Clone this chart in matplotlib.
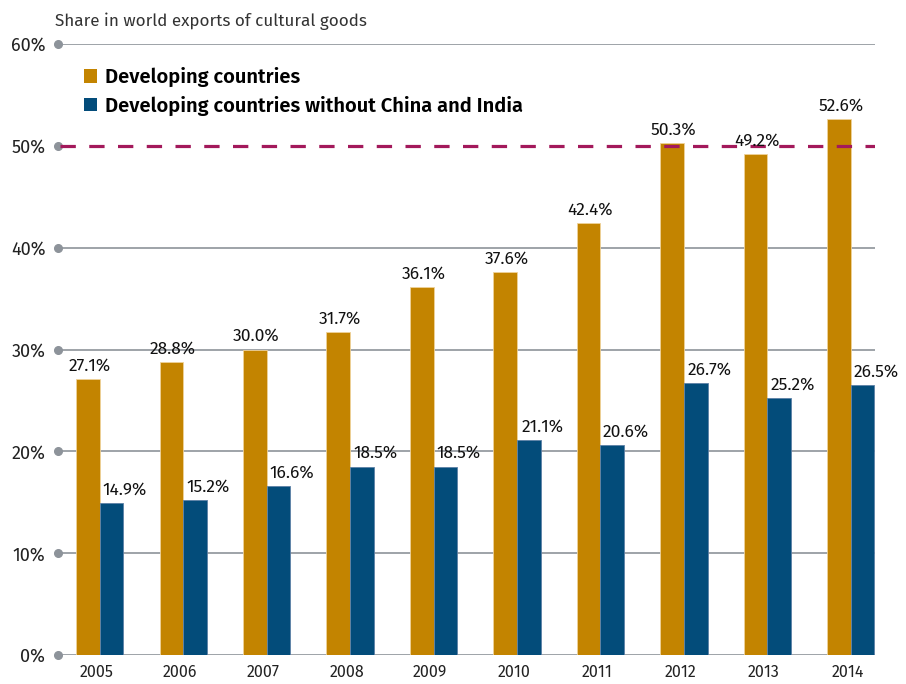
import matplotlib
matplotlib.use("Agg")
import matplotlib.pyplot as plt

plt.rcParams["font.family"] = ["Fira Sans", "DejaVu Sans"]

years = ["2005", "2006", "2007", "2008", "2009", "2010", "2011", "2012", "2013", "2014"]
developing = [27.1, 28.8, 30.0, 31.7, 36.1, 37.6, 42.4, 50.3, 49.2, 52.6]
developing_ex_cn_in = [14.9, 15.2, 16.6, 18.5, 18.5, 21.1, 20.6, 26.7, 25.2, 26.5]
series_labels = ["Developing countries", "Developing countries without China and India"]
yticks = [0, 10, 20, 30, 40, 50, 60]
title = "Share in world exports of cultural goods"
threshold = 50

ORANGE = "#C38400"
BLUE = "#034C7A"
GRID = "#8D939A"
DASH = "#A3195B"

fig = plt.figure(figsize=(9.06, 6.84), dpi=100)
ax = fig.add_axes([58 / 906, 1 - 655 / 684, (875 - 58) / 906, (655 - 44) / 684])

x = list(range(len(years)))
w = 0.283

# Gridlines with a dot at their left end
for t in yticks:
    if t == threshold:
        continue
    ax.axhline(t, color=GRID, lw=1.2, zorder=1)
ax.plot([-0.5] * len(yticks), yticks, "o", color=GRID, ms=5.5, clip_on=False, zorder=3)

b1 = ax.bar([i - w / 2 for i in x], developing, width=w, color=ORANGE,
            edgecolor="#EFD29A", linewidth=0.6, zorder=2, label=series_labels[0])
b2 = ax.bar([i + w / 2 for i in x], developing_ex_cn_in, width=w, color=BLUE,
            edgecolor="#5D80A6", linewidth=0.6, zorder=2, label=series_labels[1])

# 50% threshold
ax.axhline(threshold, xmin=0.003, color=DASH, lw=2.3, ls=(0, (4.8, 4.2)), zorder=4)

for i, v in zip(x, developing):
    ax.text(i - w / 2 + 0.02, v + 0.5, f"{v:.1f}%", ha="center", va="bottom",
            fontsize=12.5, color="#111111", zorder=5)
for i, v in zip(x, developing_ex_cn_in):
    ax.text(i + w + 0.02, v + 0.5, f"{v:.1f}%", ha="center", va="bottom",
            fontsize=12.5, color="#111111", zorder=5)

ax.set_xlim(-0.5, 9.29)
ax.set_ylim(0, 60)
ax.set_yticks(yticks)
ax.set_yticklabels([f"{t}%" for t in yticks], fontsize=13, color="#222222")
ax.set_xticks([i - 0.04 for i in x])
ax.set_xticklabels(years, fontsize=11.5, color="#222222")
ax.tick_params(axis="y", length=0, pad=9)
ax.tick_params(axis="x", length=0, pad=7)
for s in ax.spines.values():
    s.set_visible(False)

fig.text(55 / 906, 1 - 21 / 684, title, fontsize=12.3,
         color="#333333", va="center", ha="left")

leg = fig.legend(handles=[b1, b2], labels=series_labels, loc="upper left",
                 bbox_to_anchor=(84 / 906, 1 - 67 / 684), frameon=False,
                 prop={"size": 14.5, "weight": "semibold"}, handlelength=0.65, handleheight=0.65,
                 handletextpad=0.4, labelspacing=0.42, borderaxespad=0, borderpad=0)
for h in leg.legend_handles:
    h.set_edgecolor("none")

fig.savefig("out.png", dpi=100)
